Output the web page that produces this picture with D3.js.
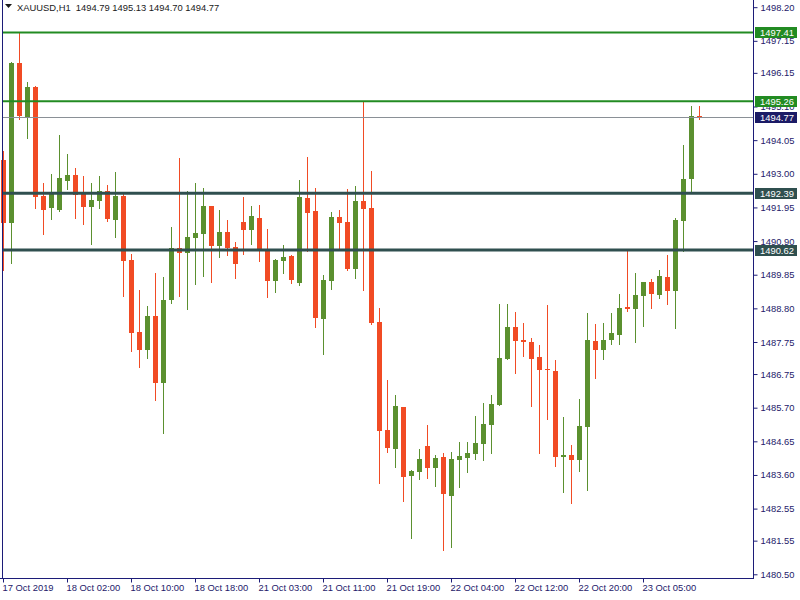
<!DOCTYPE html>
<html><head><meta charset="utf-8">
<script src="https://cdn.jsdelivr.net/npm/d3@7"></script>
<style>html,body{margin:0;padding:0;background:#fff;}svg{display:block;}</style>
</head><body>
<svg id="c" width="800" height="600"></svg>
<script>
const symbolTitle = "XAUUSD,H1";
const titleValues = "1494.79 1495.13 1494.70 1494.77";
const opens = [1493.43,1491.46,1496.46,1494.77,1495.71,1492.31,1491.93,1491.87,1492.78,1492.96,
1492.37,1491.96,1492.15,1492.46,1491.56,1492.31,1490.31,1488.06,1487.50,1488.56,
1486.47,1489.06,1490.68,1490.53,1491.00,1491.12,1492.00,1490.75,1491.18,1490.72,
1491.50,1491.25,1491.62,1490.62,1489.65,1490.28,1490.43,1489.59,1492.24,1491.84,
1488.47,1489.65,1491.65,1491.50,1490.03,1492.15,1491.93,1488.37,1485.00,1484.41,
1485.72,1483.57,1483.69,1484.50,1483.82,1484.16,1482.94,1484.07,1484.13,1484.25,
1484.57,1485.16,1485.78,1487.22,1488.22,1487.81,1487.75,1487.28,1486.91,1486.84,
1484.16,1484.22,1484.07,1485.10,1487.78,1487.50,1487.81,1487.97,1488.84,1488.78,
1489.19,1489.62,1489.22,1489.78,1489.34,1491.53,1492.84,1494.79];
const highs = [1493.71,1496.50,1497.42,1495.86,1495.73,1492.71,1492.99,1494.21,1493.62,1493.18,
1492.93,1492.71,1492.93,1492.65,1493.06,1492.43,1490.50,1489.37,1488.87,1489.90,
1489.78,1491.34,1493.49,1492.46,1492.71,1492.56,1492.01,1491.87,1491.56,1490.87,
1492.28,1492.00,1492.03,1491.28,1490.34,1490.78,1490.47,1492.81,1493.52,1492.56,
1489.84,1491.81,1491.87,1492.53,1492.62,1495.27,1493.09,1488.81,1486.56,1486.10,
1485.73,1483.75,1484.41,1485.16,1484.22,1484.29,1484.32,1484.63,1484.63,1485.44,
1485.85,1486.10,1488.94,1488.94,1488.69,1488.34,1487.88,1487.66,1488.90,1487.19,
1485.41,1484.53,1485.97,1488.65,1488.31,1488.34,1488.65,1489.25,1490.65,1489.90,
1489.62,1489.72,1490.00,1490.47,1491.62,1493.90,1495.12,1495.13];
const lows = [1490.00,1490.22,1494.71,1494.12,1491.93,1491.12,1491.59,1491.84,1492.53,1491.62,
1491.43,1490.81,1491.93,1491.53,1491.03,1489.19,1487.47,1486.97,1487.25,1485.94,
1484.91,1488.97,1489.19,1488.78,1489.56,1489.81,1489.62,1490.40,1490.47,1489.75,
1490.50,1490.81,1490.28,1489.15,1489.31,1489.90,1489.59,1489.53,1490.59,1488.22,
1487.38,1489.40,1490.68,1490.00,1489.75,1489.37,1488.30,1483.35,1484.32,1483.85,
1482.79,1481.63,1483.47,1483.51,1483.26,1481.26,1481.35,1483.22,1483.69,1484.10,
1484.07,1484.29,1485.77,1487.21,1486.78,1487.31,1485.75,1484.29,1485.35,1483.88,
1483.07,1482.72,1483.72,1483.13,1486.63,1487.22,1487.69,1487.69,1488.72,1487.75,
1488.25,1488.81,1489.12,1488.94,1488.19,1490.59,1492.40,1494.70];
const closes = [1491.46,1496.47,1494.80,1495.71,1492.28,1491.87,1492.40,1492.87,1492.96,1492.34,
1491.96,1492.18,1492.46,1491.59,1492.31,1490.28,1488.03,1487.50,1488.56,1486.47,
1489.06,1490.68,1490.53,1491.03,1491.15,1492.00,1490.75,1491.18,1490.68,1490.18,
1491.25,1491.68,1490.59,1489.65,1490.31,1490.40,1489.69,1492.28,1491.78,1488.50,
1489.69,1491.65,1491.46,1490.03,1492.15,1491.90,1488.34,1484.97,1484.44,1485.75,
1483.54,1483.72,1484.10,1483.82,1484.13,1483.01,1484.10,1484.19,1484.29,1484.60,
1485.19,1485.82,1487.25,1488.22,1487.78,1487.75,1487.22,1486.88,1486.88,1484.16,
1484.22,1484.07,1485.13,1487.81,1487.50,1487.81,1488.03,1488.81,1488.78,1489.22,
1489.62,1489.25,1489.81,1489.34,1491.56,1492.84,1494.80,1494.77];

const yTickValues = [1498.20,1497.15,1496.15,1495.10,1494.05,1493.00,1491.95,1490.90,1489.85,
1488.80,1487.75,1486.75,1485.70,1484.65,1483.60,1482.55,1481.55,1480.50];
const xTickIndex = [0,8,16,24,32,40,48,56,64,72,80];
const xTickLabels = ["17 Oct 2019","18 Oct 02:00","18 Oct 10:00","18 Oct 18:00","21 Oct 03:00",
"21 Oct 11:00","21 Oct 19:00","22 Oct 04:00","22 Oct 12:00","22 Oct 20:00","23 Oct 05:00"];

const levelValues = [1497.41, 1495.26, 1492.39, 1490.62];
const levelKinds  = ["green","green","slate","slate"];
const lastPrice = 1494.77;

const priceMin = 1480.384, priceMax = 1498.424;

// layout
const plotLeft = 2, plotRight = 753, plotTop = 0, plotBottom = 578;
const FONT = "'Liberation Sans', Arial, sans-serif";
const FS = "9.4px";
const axisColor = "#1c1c78";
const textColor = "#24206a";
const upColor = "#5b902f", downColor = "#f14b24";
const levelColor = {green:"#228b22", slate:"#2f4f4f"};
const levelWidth = {green:2, slate:3};

const svg = d3.select("#c");
const y = d3.scaleLinear().domain([priceMin, priceMax]).range([plotBottom, plotTop]);
const x = d3.scaleLinear().domain([0, opens.length-1]).range([3.5, 699.5]);

const candles = opens.map((o,i)=>({i, o, h:highs[i], l:lows[i], c:closes[i]}));

const gC = svg.append("g");
// wicks
gC.selectAll("line.wick").data(candles).enter().append("line")
  .attr("x1", d=>Math.floor(x(d.i))+0.5).attr("x2", d=>Math.floor(x(d.i))+0.5)
  .attr("y1", d=>Math.round(y(d.h))).attr("y2", d=>Math.round(y(d.l))+1)
  .attr("stroke", d=>d.c>=d.o?upColor:downColor).attr("stroke-width",1);
// bodies
gC.selectAll("rect.body").data(candles).enter().append("rect")
  .attr("x", d=>Math.floor(x(d.i))-2)
  .attr("width", 5)
  .attr("y", d=>Math.round(y(Math.max(d.o,d.c))))
  .attr("height", d=>Math.max(1, Math.round(y(Math.min(d.o,d.c))) - Math.round(y(Math.max(d.o,d.c)))))
  .attr("fill", d=>d.c>=d.o?upColor:downColor);

// level lines
svg.selectAll("line.level").data(levelValues).enter().append("line")
  .attr("x1", plotLeft+1).attr("x2", plotRight)
  .attr("y1", d=>y(d)).attr("y2", d=>y(d))
  .attr("stroke", (d,i)=>levelColor[levelKinds[i]])
  .attr("stroke-width", (d,i)=>levelWidth[levelKinds[i]]);
// last price line
svg.append("line").attr("x1", plotLeft+1).attr("x2", plotRight)
  .attr("y1", Math.round(y(lastPrice))+0.5).attr("y2", Math.round(y(lastPrice))+0.5)
  .attr("stroke", "#8a9096").attr("stroke-width", 1);

// axes frame
svg.append("line").attr("x1", plotLeft+0.5).attr("x2", plotLeft+0.5).attr("y1", 0).attr("y2", plotBottom)
  .attr("stroke", axisColor);
svg.append("line").attr("x1", plotRight+0.5).attr("x2", plotRight+0.5).attr("y1", 0).attr("y2", plotBottom+1)
  .attr("stroke", axisColor);
svg.append("line").attr("x1", 0).attr("x2", plotRight+1).attr("y1", plotBottom+0.5).attr("y2", plotBottom+0.5)
  .attr("stroke", axisColor);

// right axis
const yAxis = d3.axisRight(y).tickValues(yTickValues).tickFormat(d3.format(".2f")).tickSize(4).tickPadding(3);
const gy = svg.append("g").attr("transform", `translate(${plotRight+0.5},0)`).call(yAxis);
gy.select(".domain").remove();
gy.selectAll(".tick line").attr("stroke", axisColor);
gy.selectAll(".tick text").attr("fill", textColor).style("font-family", FONT).style("font-size", FS);

// bottom axis
const xAxis = d3.axisBottom(x).tickValues(xTickIndex).tickFormat((d,i)=>xTickLabels[i]).tickSize(4).tickPadding(2);
const gx = svg.append("g").attr("transform", `translate(0,${plotBottom+0.5})`).call(xAxis);
gx.select(".domain").remove();
gx.selectAll(".tick line").attr("stroke", axisColor).attr("transform","translate(-0.5,0)");
gx.selectAll(".tick text").attr("fill", textColor).attr("text-anchor","start").attr("dx","-1.5")
  .style("font-family", FONT).style("font-size", FS);

// price labels
const labelData = levelValues.map((v,i)=>({v, col:levelColor[levelKinds[i]]}))
  .concat([{v:lastPrice, col:"#1b1b66"}]);
const gl = svg.selectAll("g.plabel").data(labelData).enter().append("g");
gl.append("rect").attr("x", plotRight+2).attr("width", 42)
  .attr("y", d=>Math.round(y(d.v))-5).attr("height", 11).attr("fill", d=>d.col);
gl.append("text").attr("x", plotRight+7).attr("y", d=>Math.round(y(d.v))+0.5).attr("dy","0.35em")
  .attr("fill","#fff").style("font-family", FONT).style("font-size", FS)
  .text(d=>d3.format(".2f")(d.v));

// title
svg.append("path").attr("d", d3.line()([[5,4],[12,4],[8.5,8]]) + "Z").attr("fill", "#1a1a1a");
svg.append("text").attr("x", 17).attr("y", 11).attr("fill","#1a1a1a")
  .style("font-family", FONT).style("font-size", FS)
  .text(symbolTitle + "\u00a0\u00a0" + titleValues);
</script>
</body></html>
